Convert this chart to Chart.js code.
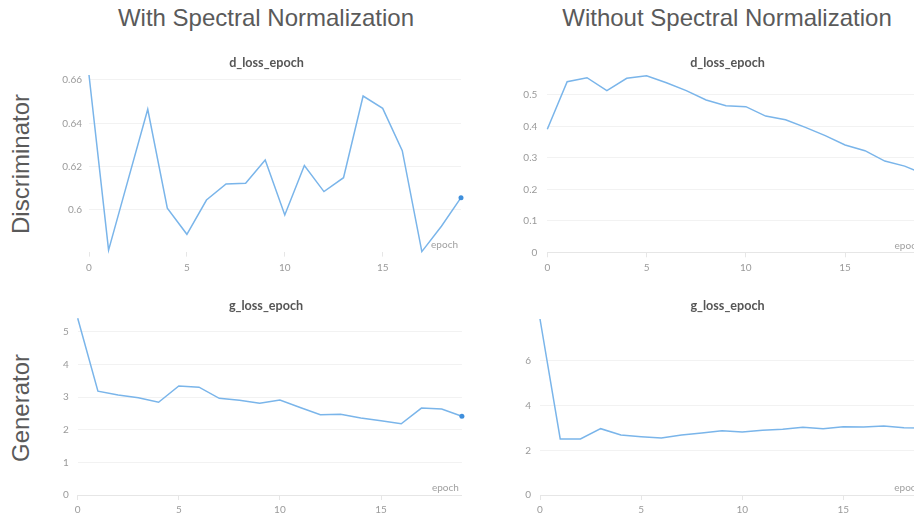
<!DOCTYPE html>
<html lang="en">
    <head>
        <meta charset="UTF-8">
        <title>Spectral Normalization - losses</title>
        <style>
            html, body {
                margin: 0;
                width: 914px;
                height: 515px;
                overflow: hidden;
                background-color: #ffffff;
            }

            .big {
                position: absolute;
                font-family: "Liberation Sans", Arial, Helvetica, sans-serif;
                font-size: 24px;
                line-height: 24px;
                color: #5a5a5a;
                white-space: nowrap;
            }

            .col {
                top: 6px;
                transform: translateX(-50%);
            }

            .row {
                transform: translate(-50%, -50%) rotate(-90deg);
            }

            canvas {
                position: absolute;
            }
        </style>
    </head>
    <body>
        <div class="big col" style="left:266px">With Spectral Normalization</div>
        <div class="big col" style="left:727px">Without Spectral Normalization</div>
        <div class="big row" style="left:21px;top:164px">Discriminator</div>
        <div class="big row" style="left:21px;top:408px">Generator</div>

        <canvas id="dSN"></canvas>
        <canvas id="dNoSN"></canvas>
        <canvas id="gSN"></canvas>
        <canvas id="gNoSN"></canvas>

        <script src="https://cdn.jsdelivr.net/npm/chart.js"></script>
        <script>
            //data

            let epochs = [0, 1, 2, 3, 4, 5, 6, 7, 8, 9, 10, 11, 12, 13, 14, 15, 16, 17, 18, 19];

            let dLossSN = [0.6623, 0.5815, 0.614, 0.6465, 0.6008, 0.5888, 0.6046, 0.612, 0.6123, 0.6231,
                           0.5977, 0.6205, 0.6085, 0.6149, 0.6526, 0.6469, 0.6274, 0.5808, 0.5925, 0.6057];

            let dLossNoSN = [0.391, 0.542, 0.555, 0.514, 0.553, 0.561, 0.539, 0.514, 0.484, 0.466,
                             0.463, 0.433, 0.421, 0.397, 0.371, 0.341, 0.323, 0.290, 0.274, 0.248];

            let gLossSN = [5.41, 3.18, 3.06, 2.98, 2.84, 3.34, 3.30, 2.96, 2.90, 2.81,
                           2.91, 2.68, 2.46, 2.47, 2.36, 2.27, 2.18, 2.66, 2.63, 2.41];

            let gLossNoSN = [7.88, 2.51, 2.51, 2.97, 2.69, 2.61, 2.55, 2.69, 2.78, 2.88,
                             2.82, 2.90, 2.94, 3.03, 2.97, 3.06, 3.04, 3.09, 3.01, 3.00];

            let xTicks = [0, 5, 10, 15];
            let dTicksSN = [0.6, 0.62, 0.64, 0.66];
            let dTicksNoSN = [0, 0.1, 0.2, 0.3, 0.4, 0.5];
            let gTicksSN = [0, 1, 2, 3, 4, 5];
            let gTicksNoSN = [0, 2, 4, 6];

            let lineColor = '#7ab5ea';
            let dotColor = '#3f8fdc';
            let tickFont = { family: 'Lato', size: 10 };

            //panel title + "epoch" hint, drawn on the canvas after the chart
            const panelText = {
                id: 'panelText',
                afterDraw(chart, args, opts) {
                    const a = chart.chartArea;
                    const ctx = chart.ctx;
                    ctx.save();
                    ctx.textBaseline = 'middle';

                    ctx.font = 'bold 12.6px Lato';
                    ctx.fillStyle = '#555555';
                    ctx.textAlign = 'center';
                    ctx.fillText(opts.text, opts.x, opts.y);

                    ctx.font = '10px Lato';
                    ctx.fillStyle = '#a0a0a0';
                    ctx.textAlign = 'right';
                    ctx.fillText('epoch', a.right - 3, a.bottom - 7);
                    ctx.restore();
                }
            };

            //box = canvas position, area = wanted plot area, tx/ty = centre of the panel title
            function makePanel(id, box, area, tx, ty, title, values, yTicks, yMin, yMax, showBase, labelPad, xPad) {
                const canvas = document.getElementById(id);
                canvas.width = box.w;
                canvas.height = box.h;
                canvas.style.left = box.left + 'px';
                canvas.style.top = box.top + 'px';

                const last = values.length - 1;

                return new Chart(canvas, {
                    type: 'line',
                    data: {
                        datasets: [{
                            data: epochs.map((e, i) => ({ x: e, y: values[i] })),
                            borderColor: lineColor,
                            borderWidth: 1.5,
                            tension: 0,
                            pointRadius: ctx => ctx.dataIndex === last ? 2.5 : 0,
                            pointBackgroundColor: dotColor,
                            pointBorderWidth: 0,
                            clip: false
                        }]
                    },
                    options: {
                        responsive: false,
                        animation: false,
                        layout: {
                            padding: {
                                top: area.top - box.top,
                                left: 0,
                                bottom: 0,
                                right: box.left + box.w - area.right
                            }
                        },
                        scales: {
                            x: {
                                type: 'linear',
                                min: 0,
                                max: 19,
                                afterBuildTicks: s => { s.ticks = xTicks.map(v => ({ value: v })); },
                                afterFit: s => { s.height = box.top + box.h - area.bottom; },
                                grid: {
                                    drawOnChartArea: false,
                                    color: '#e6e6e6',
                                    tickLength: 5
                                },
                                border: { display: showBase, color: '#e6e6e6' },
                                ticks: { font: tickFont, color: '#9a9a9a', padding: xPad, maxRotation: 0 }
                            },
                            y: {
                                min: yMin,
                                max: yMax,
                                afterBuildTicks: s => { s.ticks = yTicks.map(v => ({ value: v })); },
                                afterFit: s => { s.width = area.left - box.left; },
                                grid: { color: '#f2f2f2', drawTicks: false },
                                border: { display: false },
                                ticks: {
                                    font: tickFont,
                                    color: '#9a9a9a',
                                    padding: labelPad,
                                    callback: v => String(Math.round(v * 1000) / 1000)
                                }
                            }
                        },
                        plugins: {
                            legend: { display: false },
                            tooltip: { enabled: false },
                            panelText: { text: title, x: tx - box.left, y: ty - box.top }
                        }
                    },
                    plugins: [panelText]
                });
            }

            makePanel('dSN', { left: 50, top: 50, w: 433, h: 226 },
                      { left: 89, top: 75, right: 461, bottom: 251.6 }, 266.5, 63.3,
                      'd_loss_epoch', dLossSN, dTicksSN, 0.5808, 0.6623, false, 7, 5);

            makePanel('dNoSN', { left: 510, top: 50, w: 435, h: 222 },
                      { left: 547.3, top: 75.8, right: 924.5, bottom: 252.3 }, 727.5, 63.3,
                      'd_loss_epoch', dLossNoSN, dTicksNoSN, 0, 0.561, true, 10, 4);

            makePanel('gSN', { left: 40, top: 292, w: 452, h: 223 },
                      { left: 77.7, top: 318.3, right: 461.9, bottom: 495 }, 266, 305.7,
                      'g_loss_epoch', gLossSN, gTicksSN, 0, 5.41, true, 9, 4);

            makePanel('gNoSN', { left: 505, top: 292, w: 445, h: 223 },
                      { left: 540, top: 319, right: 924.2, bottom: 495 }, 727.5, 305.7,
                      'g_loss_epoch', gLossNoSN, gTicksNoSN, 0, 7.88, true, 9, 4);
        </script>
    </body>
</html>
